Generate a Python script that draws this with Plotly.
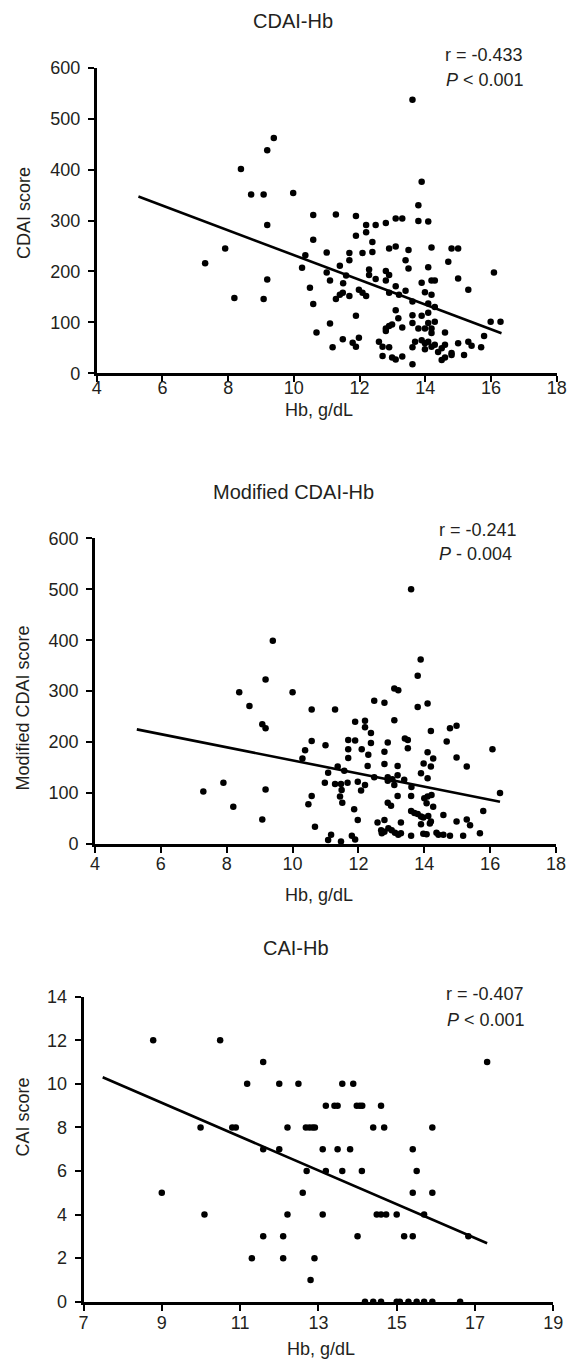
import plotly.graph_objects as go

# ---------------- data ----------------
# Panel 1: CDAI vs Hb
cdai_hb = [7.30, 7.91, 8.19, 8.39, 8.70, 9.08, 9.19, 9.39, 9.19, 9.19, 9.08, 9.98,
           13.61, 13.89, 13.79, 13.79, 14.09, 13.10, 13.30, 12.80, 12.49, 12.20, 11.89, 11.28, 10.59,
           12.20, 11.89, 12.39, 10.59, 13.10, 12.90, 13.49, 14.19, 14.80, 15.00, 14.70,
           12.09, 12.39, 11.69, 11.69, 11.00, 13.40, 13.49, 14.09, 11.40,
           12.29, 12.29, 12.80, 12.90, 12.49, 12.80, 11.00, 11.10, 11.59, 11.50,
           13.89, 14.19, 14.29, 15.00, 13.10, 10.49,
           11.98, 12.09, 12.20, 11.49, 11.40, 11.28, 11.69, 12.90, 13.20, 13.40, 13.99, 14.19, 15.31,
           13.61, 10.59, 14.09, 14.29, 13.10, 14.09, 11.89, 13.18, 13.61, 13.89,
           11.10, 13.61, 14.09, 14.29, 12.99, 12.90, 12.80, 12.80, 13.30,
           13.79, 13.99, 14.19, 14.19, 14.60, 15.99, 16.29, 15.79, 10.69,
           11.49, 11.79, 11.89, 11.98, 11.18, 12.59, 12.70, 12.90,
           12.70, 12.99, 13.10, 13.30,
           13.61, 13.69, 13.89, 13.99, 13.99, 14.09,
           14.19, 14.29, 14.39, 14.50, 14.60, 14.50, 14.60, 14.80, 14.80,
           15.00, 15.31, 15.41, 15.18, 15.70, 13.61,
           10.35, 10.25, 16.09]
cdai_score = [216, 245, 148, 401, 351, 351, 438, 462, 291, 184, 146, 354,
              537, 376, 330, 299, 298, 304, 304, 295, 291, 291, 309, 312, 311,
              277, 270, 258, 262, 249, 245, 242, 247, 245, 245, 219,
              236, 238, 236, 222, 237, 222, 206, 208, 211,
              204, 193, 201, 193, 185, 182, 198, 182, 192, 177,
              178, 182, 182, 186, 171, 168,
              164, 158, 152, 158, 154, 146, 152, 158, 154, 162, 159, 154, 164,
              141, 136, 137, 130, 124, 119, 113, 108, 114, 113,
              98, 99, 99, 101, 96, 93, 88, 83, 90,
              88, 88, 88, 79, 80, 101, 101, 73, 80,
              67, 60, 52, 70, 51, 62, 52, 51,
              34, 31, 27, 33,
              51, 62, 65, 59, 47, 62,
              52, 56, 42, 49, 56, 26, 31, 36, 40,
              59, 62, 54, 36, 51, 18,
              232, 207, 198]
cdai_fit_x = [5.27, 16.32]
cdai_fit_y = [347, 78.5]

# Panel 2: Modified CDAI vs Hb
mcdai_hb = [9.40, 9.18, 8.38, 10.00, 8.69, 9.08, 9.18, 7.29, 7.90, 8.20, 9.18, 9.08,
            10.58, 11.29, 12.48, 12.79, 13.09, 13.21, 13.09, 11.90, 12.20, 12.20, 12.38, 10.58,
            10.38, 10.30, 11.00, 11.69, 11.90, 11.69, 11.69, 12.10, 12.30, 12.38, 12.89, 12.79,
            12.28, 12.79, 13.19, 11.37, 11.08, 11.57, 10.98, 11.29, 11.47, 11.49, 11.44, 11.51,
            11.67, 11.98, 12.08, 12.20, 12.48, 12.89, 12.89, 13.03, 13.09, 13.19, 10.58, 10.48,
            10.68, 11.87, 11.98, 12.89, 12.99, 12.58, 12.79, 12.69, 12.79, 12.71, 12.91, 13.01,
            13.11, 13.21, 11.17, 11.08, 11.47, 11.80, 11.90,
            13.89, 13.60, 13.80, 13.80, 14.10, 14.20, 14.78, 14.98, 13.41, 13.50, 13.50, 14.68,
            16.07, 14.10, 14.27, 13.98, 14.20, 14.10, 13.90, 14.98, 15.29, 13.39, 13.61, 13.19,
            13.60, 14.00, 14.10, 14.22, 14.07, 14.27, 16.30, 13.60, 13.70, 13.80, 13.90, 14.12,
            14.20, 13.97, 14.58, 15.79, 14.98, 15.29, 15.39, 13.29, 13.90, 14.17,
            13.29, 13.60, 13.97, 14.07, 14.37, 14.43, 14.58, 14.78, 15.18, 15.69]
mcdai_score = [399, 323, 298, 298, 271, 235, 227, 103, 120, 73, 107, 48,
               264, 264, 281, 277, 305, 302, 243, 240, 242, 229, 218, 202,
               184, 168, 194, 204, 203, 186, 169, 186, 175, 198, 199, 181,
               153, 157, 153, 152, 140, 144, 120, 118, 118, 106, 93, 81,
               120, 122, 105, 116, 131, 131, 124, 127, 116, 135, 94, 78,
               34, 68, 47, 81, 75, 42, 47, 27, 24, 21, 31, 27,
               22, 18, 18, 8, 5, 16, 9,
               362, 500, 330, 269, 276, 222, 227, 232, 207, 204, 188, 201,
               186, 180, 168, 158, 152, 129, 139, 170, 152, 126, 112, 94,
               94, 90, 93, 96, 80, 73, 100, 65, 61, 59, 54, 55,
               44, 52, 57, 65, 44, 48, 37, 42, 39, 40,
               21, 16, 20, 19, 22, 18, 18, 16, 16, 21]
mcdai_fit_x = [5.27, 16.30]
mcdai_fit_y = [225, 83]

# Panel 3: CAI vs Hb
cai_hb = [8.78, 10.49,
          11.59, 17.31,
          11.18, 12.00, 12.49, 13.61, 13.89,
          13.19, 13.41, 13.49, 13.98, 14.06, 14.12, 14.60,
          9.99, 10.80, 10.89, 12.21, 12.68, 12.77, 12.85, 12.91, 14.40, 14.68, 15.91,
          11.59, 12.00, 13.11, 13.49, 13.81, 15.41,
          12.70, 13.19, 13.61, 14.11, 15.51,
          9.00, 12.60, 15.41, 15.91,
          10.09, 12.21, 13.11, 14.49, 14.60, 14.73, 15.00, 15.70,
          11.59, 12.10, 14.00, 15.19, 15.41, 16.83,
          11.30, 12.10, 12.90,
          12.80,
          14.19, 14.40, 14.60, 15.00, 15.08, 15.30, 15.51, 15.70, 15.91, 16.62]
cai_score = [12, 12,
             11, 11,
             10, 10, 10, 10, 10,
             9, 9, 9, 9, 9, 9, 9,
             8, 8, 8, 8, 8, 8, 8, 8, 8, 8, 8,
             7, 7, 7, 7, 7, 7,
             6, 6, 6, 6, 6,
             5, 5, 5, 5,
             4, 4, 4, 4, 4, 4, 4, 4,
             3, 3, 3, 3, 3, 3,
             2, 2, 2,
             1,
             0, 0, 0, 0, 0, 0, 0, 0, 0, 0]
cai_fit_x = [7.49, 17.31]
cai_fit_y = [10.3, 2.68]

titles = ["CDAI-Hb", "Modified CDAI-Hb", "CAI-Hb"]
y_titles = ["CDAI score", "Modified CDAI score", "CAI score"]
x_title = "Hb, g/dL"
stats_r = ["r = -0.433", "r = -0.241", "r = -0.407"]
stats_p = ["<i>P</i> < 0.001", "<i>P</i> - 0.004", "<i>P</i> < 0.001"]

# ---------------- figure ----------------
W, H = 575, 1360
FONT = "Liberation Sans, Arial, sans-serif"
TXT = "#231f20"

def px(x):
    return x / W

def py(y):
    return 1 - y / H

fig = go.Figure()

panels = [
    (cdai_hb, cdai_score, cdai_fit_x, cdai_fit_y, "x", "y"),
    (mcdai_hb, mcdai_score, mcdai_fit_x, mcdai_fit_y, "x2", "y2"),
    (cai_hb, cai_score, cai_fit_x, cai_fit_y, "x3", "y3"),
]
for xs, ys, fx, fy, xa, ya in panels:
    fig.add_trace(go.Scatter(x=fx, y=fy, mode="lines", xaxis=xa, yaxis=ya,
                             line=dict(color="black", width=2.6),
                             hoverinfo="skip", showlegend=False, cliponaxis=False))
    fig.add_trace(go.Scatter(x=xs, y=ys, mode="markers", xaxis=xa, yaxis=ya,
                             marker=dict(color="black", size=6.5, line=dict(width=0)),
                             showlegend=False, cliponaxis=False))

axis_common = dict(showgrid=False, zeroline=False, showline=True, linecolor="black",
                   linewidth=2.6, ticks="outside", ticklen=6, tickwidth=2,
                   tickcolor="black", layer="below traces", automargin=False,
                   tickfont=dict(family=FONT, size=18, color=TXT))

# pixel geometry of the three plot areas (left, right, top, bottom)
geo = [(96.7, 556.7, 67.7, 373.3), (95.0, 556.0, 538.3, 844.0), (83.5, 553.3, 996.7, 1301.7)]
xranges = [[4, 18], [4, 18], [7, 19]]
yranges = [[0, 600], [0, 600], [0, 14]]
xticks = [list(range(4, 19, 2)), list(range(4, 19, 2)), list(range(7, 20, 2))]
yticks = [list(range(0, 601, 100)), list(range(0, 601, 100)), list(range(0, 15, 2))]
xstand = [-10, -4, -3]

layout = dict(width=W, height=H, margin=dict(l=0, r=0, t=0, b=0, pad=0, autoexpand=False),
              paper_bgcolor="white", plot_bgcolor="white", showlegend=False)
for i, (l, r, t, b) in enumerate(geo):
    sfx = "" if i == 0 else str(i + 1)
    anchor_y = "y" + sfx
    anchor_x = "x" + sfx
    layout["xaxis" + sfx] = dict(axis_common, domain=[px(l), px(r)], range=xranges[i],
                                 tickvals=xticks[i], anchor=anchor_y,
                                 ticklabelstandoff=xstand[i])
    layout["yaxis" + sfx] = dict(axis_common, domain=[py(b), py(t)], range=yranges[i],
                                 tickvals=yticks[i], anchor=anchor_x,
                                 ticklabelstandoff=4)
fig.update_layout(**layout)

ann = []
title_pos = [(293, 21), (293, 492), (296, 947.5)]
ytitle_pos = [(24, 213), (22.5, 708), (22.5, 1117)]
xtitle_pos = [(318.5, 410), (318.5, 895), (320.8, 1349)]
r_pos = [(443, 55), (437, 529.5), (444, 994.3)]
p_pos = [(444, 80), (437, 554), (445, 1020)]
for i in range(3):
    ann.append(dict(text=titles[i], x=px(title_pos[i][0]), y=py(title_pos[i][1]),
                    xref="paper", yref="paper", showarrow=False, xanchor="center",
                    yanchor="middle", font=dict(family=FONT, size=20, color=TXT)))
    ann.append(dict(text=y_titles[i], x=px(ytitle_pos[i][0]), y=py(ytitle_pos[i][1]),
                    xref="paper", yref="paper", showarrow=False, textangle=-90,
                    xanchor="center", yanchor="middle",
                    font=dict(family=FONT, size=18, color=TXT)))
    ann.append(dict(text=x_title, x=px(xtitle_pos[i][0]), y=py(xtitle_pos[i][1]),
                    xref="paper", yref="paper", showarrow=False, xanchor="center",
                    yanchor="middle", font=dict(family=FONT, size=18, color=TXT)))
    ann.append(dict(text=stats_r[i], x=px(r_pos[i][0]), y=py(r_pos[i][1]),
                    xref="paper", yref="paper", showarrow=False, xanchor="left",
                    yanchor="middle", font=dict(family=FONT, size=18, color=TXT)))
    ann.append(dict(text=stats_p[i], x=px(p_pos[i][0]), y=py(p_pos[i][1]),
                    xref="paper", yref="paper", showarrow=False, xanchor="left",
                    yanchor="middle", font=dict(family=FONT, size=18, color=TXT)))
fig.update_layout(annotations=ann)

fig.write_html("out.html",
               config={"displayModeBar": False, "responsive": False},
               post_script="document.body.style.margin='0';"
                           "document.body.style.overflow='hidden';"
                           "document.documentElement.style.overflow='hidden';")
